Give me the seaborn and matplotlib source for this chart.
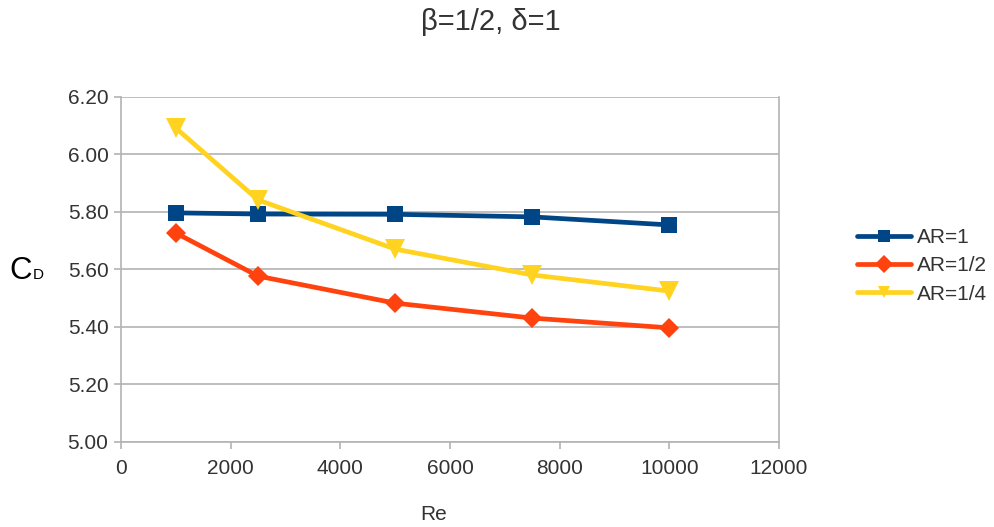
import matplotlib
matplotlib.use("Agg")
import matplotlib.pyplot as plt
import seaborn as sns
import pandas as pd

re_vals = [1000, 2500, 5000, 7500, 10000]
cd_ar1 = [5.797, 5.793, 5.792, 5.783, 5.755]
cd_ar12 = [5.727, 5.577, 5.483, 5.431, 5.397]
cd_ar14 = [6.092, 5.842, 5.671, 5.581, 5.525]
series_names = ["AR=1", "AR=1/2", "AR=1/4"]
colors = ["#004586", "#ff420e", "#ffd320"]
markers = ["s", "D", "v"]
marker_sizes = [12, 10, 14]

rows = []
for name, vals in zip(series_names, [cd_ar1, cd_ar12, cd_ar14]):
    for r, v in zip(re_vals, vals):
        rows.append({"Re": r, "CD": v, "series": name})
df = pd.DataFrame(rows)

sns.set_theme(style="white")
plt.rcParams['font.family'] = ['Liberation Sans', 'DejaVu Sans']

fig = plt.figure(figsize=(9.95, 5.27), dpi=100)
ax = fig.add_axes([121/995, 1-442/527, (779-121)/995, (442-97)/527])

sns.lineplot(data=df, x="Re", y="CD", hue="series", style="series",
             palette=dict(zip(series_names, colors)),
             markers=dict(zip(series_names, markers)), dashes=False,
             linewidth=3.4, markersize=12, markeredgewidth=0, ax=ax, legend=True)
for line, ms in zip(ax.lines[:3], marker_sizes):
    line.set_markersize(ms)

ax.set_xlim(0, 12000)
ax.set_ylim(5.0, 6.2)
ax.set_xticks(range(0, 12001, 2000))
ax.set_yticks([5.0 + 0.2*i for i in range(7)])
ax.set_yticklabels([f"{5.0 + 0.2*i:.2f}" for i in range(7)])
ax.yaxis.grid(True, color="#b3b3b3", linewidth=1.2)
ax.xaxis.grid(False)
for s in ax.spines.values():
    s.set_color("#b3b3b3")
    s.set_linewidth(1.2)
ax.spines['top'].set_visible(False)
ax.tick_params(axis='both', which='both', direction='out', length=5, width=1.2,
               color="#b3b3b3", labelsize=15, labelcolor="#333333")
ax.tick_params(axis='y', left=True, pad=4)
ax.tick_params(axis='x', bottom=True, pad=7)

ax.set_xlabel("")
ax.set_ylabel("")
fig.text(434/995, 1-514/527, "Re", fontsize=15, color="#333333",
         ha="center", va="center")

# C_D label: large C, small D sharing the baseline
fig.text(9/995, 1-279/527, "C", fontsize=22.5, color="#000000", ha="left", va="baseline")
fig.text(33/995, 1-279/527, "D", fontsize=11, color="#000000", ha="left", va="baseline")

fig.text(0.5 - 7/995, 1-22/527, "β=1/2, δ=1", fontsize=21, color="#333333",
         ha="center", va="center")

leg = ax.legend(loc="upper left", bbox_to_anchor=(857/995, 1-228/527),
                bbox_transform=fig.transFigure, frameon=False, borderaxespad=0,
                borderpad=0, fontsize=15, handlelength=2.6, labelspacing=0.45,
                handletextpad=0.3)
for t in leg.get_texts():
    t.set_color("#333333")
for h in leg.legend_handles:
    h.set_markersize(9)

fig.savefig("out.png", dpi=100, facecolor="white")
